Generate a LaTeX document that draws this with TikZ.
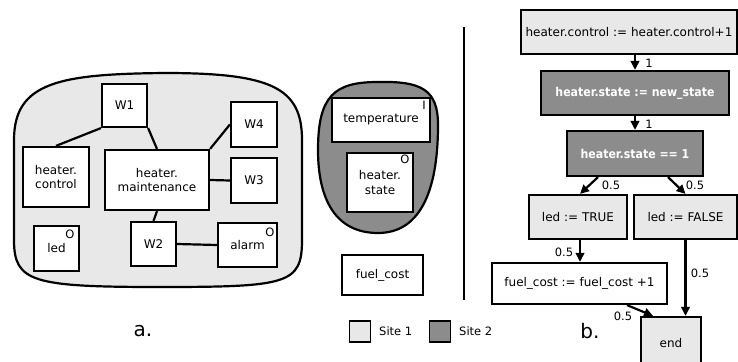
\documentclass[tikz,border=0pt]{standalone}
\usepackage{fontspec}
\setmainfont{DejaVu Sans}
\newfontfamily\narrowbold{DejaVu Sans Condensed}
\usetikzlibrary{arrows.meta}
\definecolor{siteone}{HTML}{E8E8E8}
\definecolor{sitetwo}{HTML}{8C8C8C}
\tikzset{
  box/.style={draw=black, line width=2.2pt, fill=white, inner sep=0pt, align=center,
    font=\fontsize{12}{14.5}\selectfont},
  lightbox/.style={box, fill=siteone},
  darkbox/.style={box, fill=sitetwo, text=white, font=\narrowbold\fontsize{12.2}{14.5}\selectfont\bfseries},
  link/.style={line width=2.2pt},
  flow/.style={line width=2.2pt, -{Triangle[length=9pt,width=8.5pt]}},
  wt/.style={font=\fontsize{11.5}{13}\selectfont, inner sep=0pt},
  tag/.style={font=\fontsize{11.5}{13}\selectfont, inner sep=0pt},
  blob/.style={draw=black, line width=2.2pt},
  caption/.style={font=\fontsize{20}{22}\selectfont, inner sep=0pt},
}
\begin{document}
\begin{tikzpicture}[x=1pt, y=-1pt]
\useasboundingbox (0,0) rectangle (738,361);

% --- part a: site 1 region ---
\draw[blob, fill=siteone] (14,140) .. controls (14,82) and (60,74) .. (165,73)
  .. controls (272,73) and (302,88) .. (302,140) -- (302,240)
  .. controls (302,284) and (288,287) .. (160,287)
  .. controls (32,287) and (14,282) .. (14,240) -- cycle;

\node[box, minimum width=45pt, minimum height=43pt] (w1) at (124.5,105.5) {W1};
\node[box, minimum width=66pt, minimum height=60pt] (hc) at (56,177) {heater.\\control};
\node[box, minimum width=104pt, minimum height=60pt] (hm) at (157,180) {heater.\\maintenance};
\node[box, minimum width=46pt, minimum height=45pt] (w4) at (254,124.5) {W4};
\node[box, minimum width=46pt, minimum height=45pt] (w3) at (254,180.5) {W3};
\node[box, minimum width=45pt, minimum height=45pt] (led) at (56.5,248.5) {\raisebox{-3pt}{led}};
\node[box, minimum width=45pt, minimum height=44pt] (w2) at (153.5,244) {W2};
\node[box, minimum width=59pt, minimum height=44pt] (alarm) at (247.5,245) {alarm};
\node[tag] (ledo) at (70,234) {O};
\node[tag] (alarmo) at (270,232) {O};

\draw[link] (w1.south west) -- (hc.north);
\draw[link] (w1.south east) -- (hm.north);
\draw[link] (hm.north east) -- (w4.west);
\draw[link] (hm.east) -- (w3.west);
\draw[link] (hm.south) -- (w2.north);
\draw[link] (w2.east) -- (alarm.west);

% --- site 2 region ---
\draw[blob, fill=sitetwo] (378,82) .. controls (422,81) and (438,90) .. (438,125)
  .. controls (438,195) and (418,233) .. (378,233)
  .. controls (336,233) and (318,200) .. (318,150)
  .. controls (318,96) and (334,82) .. (378,82) -- cycle;

\node[box, minimum width=98pt, minimum height=44pt] (temp) at (381,120) {temperature};
\node[box, minimum width=66pt, minimum height=59pt] (hs) at (380,182.5) {heater.\\state};
\node[tag] (tempi) at (424,105) {I};
\node[tag] (hso) at (405,159) {O};

\node[box, minimum width=81pt, minimum height=40pt] (fc) at (382.5,275) {fuel\_cost};

% labels and legend
\node[caption] (la) at (143,331) {a.};
\node[caption] (lb) at (590,331) {b.};
\node[draw=black, line width=1.8pt, fill=siteone, minimum size=21pt, inner sep=0pt] (s1) at (360,331.5) {};
\node[wt, anchor=west] (s1t) at (379,331.5) {Site 1};
\node[draw=black, line width=1.8pt, fill=sitetwo, minimum size=21pt, inner sep=0pt] (s2) at (440,331.5) {};
\node[wt, anchor=west] (s2t) at (459,331.5) {Site 2};

% separator
\coordinate (sepA) at (464,27);
\coordinate (sepB) at (464,300);
\draw[line width=2.2pt] (sepA) -- (sepB);

% --- part b: flow of operations ---
\node[lightbox, minimum width=216pt, minimum height=44pt] (b1) at (629,32) {heater.control := heater.control+1};
\node[darkbox, minimum width=188pt, minimum height=44pt] (b2) at (635,93) {heater.state := new\_state};
\node[darkbox, minimum width=136pt, minimum height=45pt] (b3) at (635,153.5) {heater.state == 1};
\node[lightbox, minimum width=98pt, minimum height=44pt] (lt) at (578,217) {led := TRUE};
\node[lightbox, minimum width=103pt, minimum height=44pt] (lf) at (685.5,217) {led := FALSE};
\node[box, minimum width=175pt, minimum height=41pt] (fu) at (579.5,283.5) {fuel\_cost := fuel\_cost +1};
\node[lightbox, minimum width=60pt, minimum height=52pt] (en) at (671,343) {end};

\draw[flow] (b2.north |- b1.south) -- (b2.north);
\draw[flow] (b2.south) -- (b3.north);
\draw[flow] ([xshift=-37pt]b3.south) -- ([xshift=2pt]lt.north);
\draw[flow] ([xshift=33pt]b3.south) -- (lf.north);
\draw[flow] ([xshift=2pt]lt.south) -- ([xshift=2pt]lt.south |- fu.north);
\draw[flow] (lf.south) -- (lf.south |- en.north);
\draw[flow] ([xshift=47.5pt]fu.south) -- ([xshift=-18pt]en.north);

\node[wt] (p1) at (649,63) {1};
\node[wt] (p2) at (649,124) {1};
\node[wt] (p3) at (611,185) {0.5};
\node[wt] (p4) at (695,185) {0.5};
\node[wt] (p5) at (564,252) {0.5};
\node[wt] (p6) at (700,273) {0.5};
\node[wt] (p7) at (623,316) {0.5};
\end{tikzpicture}
\end{document}
